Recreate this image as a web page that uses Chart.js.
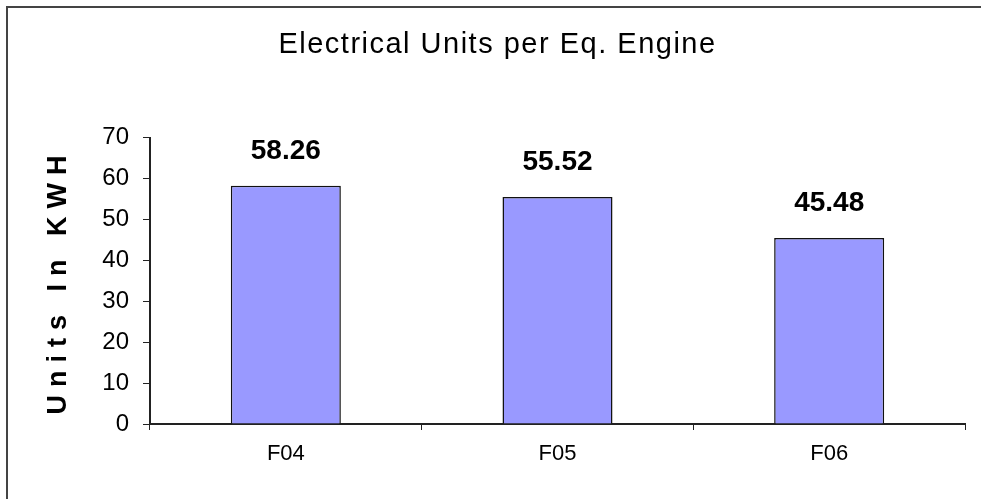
<!DOCTYPE html>
<html>
<head>
<meta charset="utf-8">
<script src="https://cdn.jsdelivr.net/npm/chart.js@4.4.0/dist/chart.umd.min.js"></script>
<style>
  html, body { margin: 0; padding: 0; background: #fff; overflow: hidden; }
  #wrap { position: relative; width: 981px; height: 499px; }
  #marco { position: absolute; left: 6px; top: 6px; width: 1000px; height: 520px;
           border-left: 2px solid #444; border-top: 2px solid #444; pointer-events: none; }
</style>
</head>
<body>
<div id="wrap">
  <canvas id="grafica" width="981" height="499"></canvas>
  <div id="marco"></div>
</div>
<script>
// datos
const categorias = ['F04', 'F05', 'F06'];
const unidades = [58.26, 55.52, 45.48];
const ticksY = [0, 10, 20, 30, 40, 50, 60, 70];

const titulo = 'Electrical Units per Eq. Engine';
const tituloY = 'Units In KWH';

// etiquetas de valor encima de cada barra
const etiquetas = {
  id: 'etiquetas',
  afterDatasetsDraw(chart) {
    const ctx = chart.ctx;
    const meta = chart.getDatasetMeta(0);
    ctx.save();
    ctx.font = 'bold 28px "Liberation Sans", Arial, sans-serif';
    ctx.fillStyle = '#000';
    ctx.textAlign = 'center';
    ctx.textBaseline = 'middle';
    meta.data.forEach((barra, i) => {
      ctx.fillText(unidades[i].toFixed(2), barra.x, barra.y - 35);
    });
    ctx.restore();
  }
};

// titulos con letras separadas (como en la imagen)
const espaciado = {
  id: 'espaciado',
  beforeDraw(chart) {
    const sc = chart.scales.y;
    if (!sc._espaciado) {
      const original = sc.drawTitle.bind(sc);
      sc.drawTitle = function () {
        chart.ctx.save();
        chart.ctx.letterSpacing = '8px';
        original();
        chart.ctx.restore();
      };
      sc._espaciado = true;
    }
    const tb = chart.titleBlock;
    if (tb && !tb._espaciado) {
      const dibujar = tb.draw.bind(tb);
      tb.draw = function () {
        chart.ctx.save();
        chart.ctx.letterSpacing = '1.5px';
        chart.ctx.translate(15, 0);
        dibujar();
        chart.ctx.restore();
      };
      tb._espaciado = true;
    }
  }
};

new Chart(document.getElementById('grafica'), {
  type: 'bar',
  data: {
    labels: categorias,
    datasets: [{
      data: unidades,
      backgroundColor: '#9999FF',
      borderColor: '#111',
      borderWidth: 1.5,
      categoryPercentage: 1,
      barPercentage: 0.405
    }]
  },
  options: {
    responsive: false,
    animation: false,
    layout: { padding: { left: 0, right: 16, top: 0, bottom: 0 } },
    plugins: {
      legend: { display: false },
      tooltip: { enabled: false },
      title: {
        display: true,
        text: titulo,
        color: '#000',
        font: { family: '"Liberation Sans", Arial, sans-serif', size: 29, weight: 'normal', lineHeight: 1.2 },
        padding: { top: 28, bottom: 75 }
      }
    },
    scales: {
      x: {
        grid: { display: true, drawOnChartArea: false, drawTicks: true, tickLength: 6, color: '#222', offset: true },
        border: { display: true, color: '#222', width: 2 },
        ticks: {
          color: '#000',
          padding: 11,
          font: { family: '"Liberation Sans", Arial, sans-serif', size: 22 }
        },
        afterFit(scale) { scale.height = 75; }
      },
      y: {
        min: 0,
        max: 70,
        afterBuildTicks(scale) { scale.ticks = ticksY.map(v => ({ value: v })); },
        grid: { display: true, drawOnChartArea: false, drawTicks: true, tickLength: 7, color: '#222' },
        border: { display: true, color: '#222', width: 2 },
        ticks: {
          color: '#000',
          padding: 14,
          font: { family: '"Liberation Sans", Arial, sans-serif', size: 24 }
        },
        title: {
          display: true,
          text: tituloY,
          color: '#000',
          font: { family: '"Liberation Sans", Arial, sans-serif', size: 27, weight: 'bold', lineHeight: 1.2 },
          padding: { top: 42, bottom: 0 }
        },
        afterFit(scale) { scale.width = 150; }
      }
    }
  },
  plugins: [etiquetas, espaciado]
});
</script>
</body>
</html>
